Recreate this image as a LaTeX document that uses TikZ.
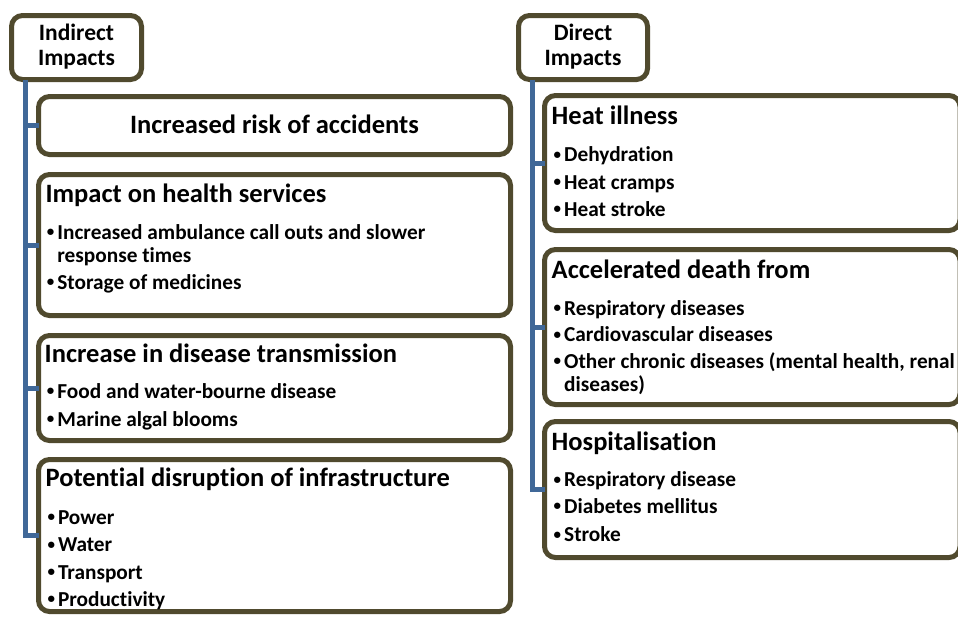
\documentclass[tikz,border=0pt]{standalone}
\usepackage{fontspec}
\setmainfont{Carlito}[Ligatures=NoCommon]
\definecolor{olive}{RGB}{80,74,46}
\definecolor{trunkblue}{RGB}{64,104,152}
\newcommand{\bul}{\llap{\raisebox{2.6pt}{\fontsize{15}{15}\selectfont •}\hspace{3pt}}}
\begin{document}
\begin{tikzpicture}[x=1pt,y=-1pt,
  box/.style={draw=olive,line width=5pt,rounded corners=11pt,fill=white,inner sep=0pt,outer sep=0pt},
  conn/.style={draw=trunkblue,line width=5pt},
  hdrtxt/.style={anchor=base,inner sep=0pt,font=\fontsize{23.5}{26}\selectfont\bfseries},
  ttl/.style={anchor=base west,inner sep=0pt,font=\fontsize{26.5}{30}\selectfont\bfseries},
  itm/.style={anchor=base west,inner sep=0pt,font=\fontsize{21.3}{24}\selectfont\bfseries}]
\useasboundingbox (0,0) rectangle (958,616);
\clip (0,0) rectangle (958,616);
\coordinate (ltrunk) at (25,79.5);
\coordinate (rtrunk) at (532,79.5);
% boxes
\node[box,minimum width=130pt,minimum height=64pt] (ih) at (76.5,47.5) {};
\node[box,minimum width=129pt,minimum height=64pt] (dh) at (583,47.5) {};
\node[box,minimum width=472pt,minimum height=58pt] (l1) at (274.5,125.5) {};
\node[box,minimum width=472pt,minimum height=141pt] (l2) at (274.5,245) {};
\node[box,minimum width=472pt,minimum height=105pt] (l3) at (274.5,388) {};
\node[box,minimum width=472pt,minimum height=152pt] (l4) at (274.5,535.5) {};
\node[box,minimum width=415.5pt,minimum height=135pt] (r1) at (752.25,163) {};
\node[box,minimum width=415.5pt,minimum height=155pt] (r2) at (752.25,327) {};
\node[box,minimum width=415.5pt,minimum height=136pt] (r3) at (752.25,489.5) {};
% trunks and branches
\draw[conn] (ltrunk) |- (l4.west);
\draw[conn] (ltrunk |- l1.west) -- (l1.west);
\draw[conn] (ltrunk |- l2.west) -- (l2.west);
\draw[conn] (ltrunk |- l3.west) -- (l3.west);
\draw[conn] (rtrunk) |- (r3.west);
\draw[conn] (rtrunk |- r1.west) -- (r1.west);
\draw[conn] (rtrunk |- r2.west) -- (r2.west);
% header texts
\node[hdrtxt] (ih1) at (76.5,40.7) {Indirect};
\node[hdrtxt] (ih2) at (76.5,65) {Impacts};
\node[hdrtxt] (dh1) at (583,40.7) {Direct};
\node[hdrtxt] (dh2) at (583,65) {Impacts};
% left texts
\node[ttl,anchor=base] (l1t) at (274.5,133.3) {Increased risk of accidents};
\node[ttl] (l2t) at (45.4,202.7) {Impact on health services};
\node[itm] (l2a) at (57.2,239.3) {\bul Increased ambulance call outs and slower};
\node[itm] (l2b) at (57.2,262) {response times};
\node[itm] (l2c) at (57.2,289.3) {\bul Storage of medicines};
\node[ttl] (l3t) at (44.5,362.3) {Increase in disease transmission};
\node[itm] (l3a) at (57.2,398.3) {\bul Food and water-bourne disease};
\node[itm] (l3b) at (57.2,426) {\bul Marine algal blooms};
\node[ttl] (l4t) at (45.4,486.7) {Potential disruption of infrastructure};
\node[itm] (l4a) at (57.8,524.3) {\bul Power};
\node[itm] (l4b) at (57.8,551.7) {\bul Water};
\node[itm] (l4c) at (57.8,579) {\bul Transport};
\node[itm] (l4d) at (57.8,606) {\bul Productivity};
% right texts
\node[ttl] (r1t) at (551.5,124) {Heat illness};
\node[itm] (r1a) at (564,161.7) {\bul Dehydration};
\node[itm] (r1b) at (564,189) {\bul Heat cramps};
\node[itm] (r1c) at (564,216) {\bul Heat stroke};
\node[ttl] (r2t) at (551.5,278.3) {Accelerated death from};
\node[itm] (r2a) at (564,315) {\bul Respiratory diseases};
\node[itm] (r2b) at (564,341.7) {\bul Cardiovascular diseases};
\node[itm] (r2c) at (564,368.3) {\bul Other chronic diseases (mental health, renal};
\node[itm] (r2d) at (564,391.7) {diseases)};
\node[ttl] (r3t) at (551.5,450.7) {Hospitalisation};
\node[itm] (r3a) at (564,486.7) {\bul Respiratory disease};
\node[itm] (r3b) at (564,513.3) {\bul Diabetes mellitus};
\node[itm] (r3c) at (564,541.7) {\bul Stroke};
\end{tikzpicture}
\end{document}
